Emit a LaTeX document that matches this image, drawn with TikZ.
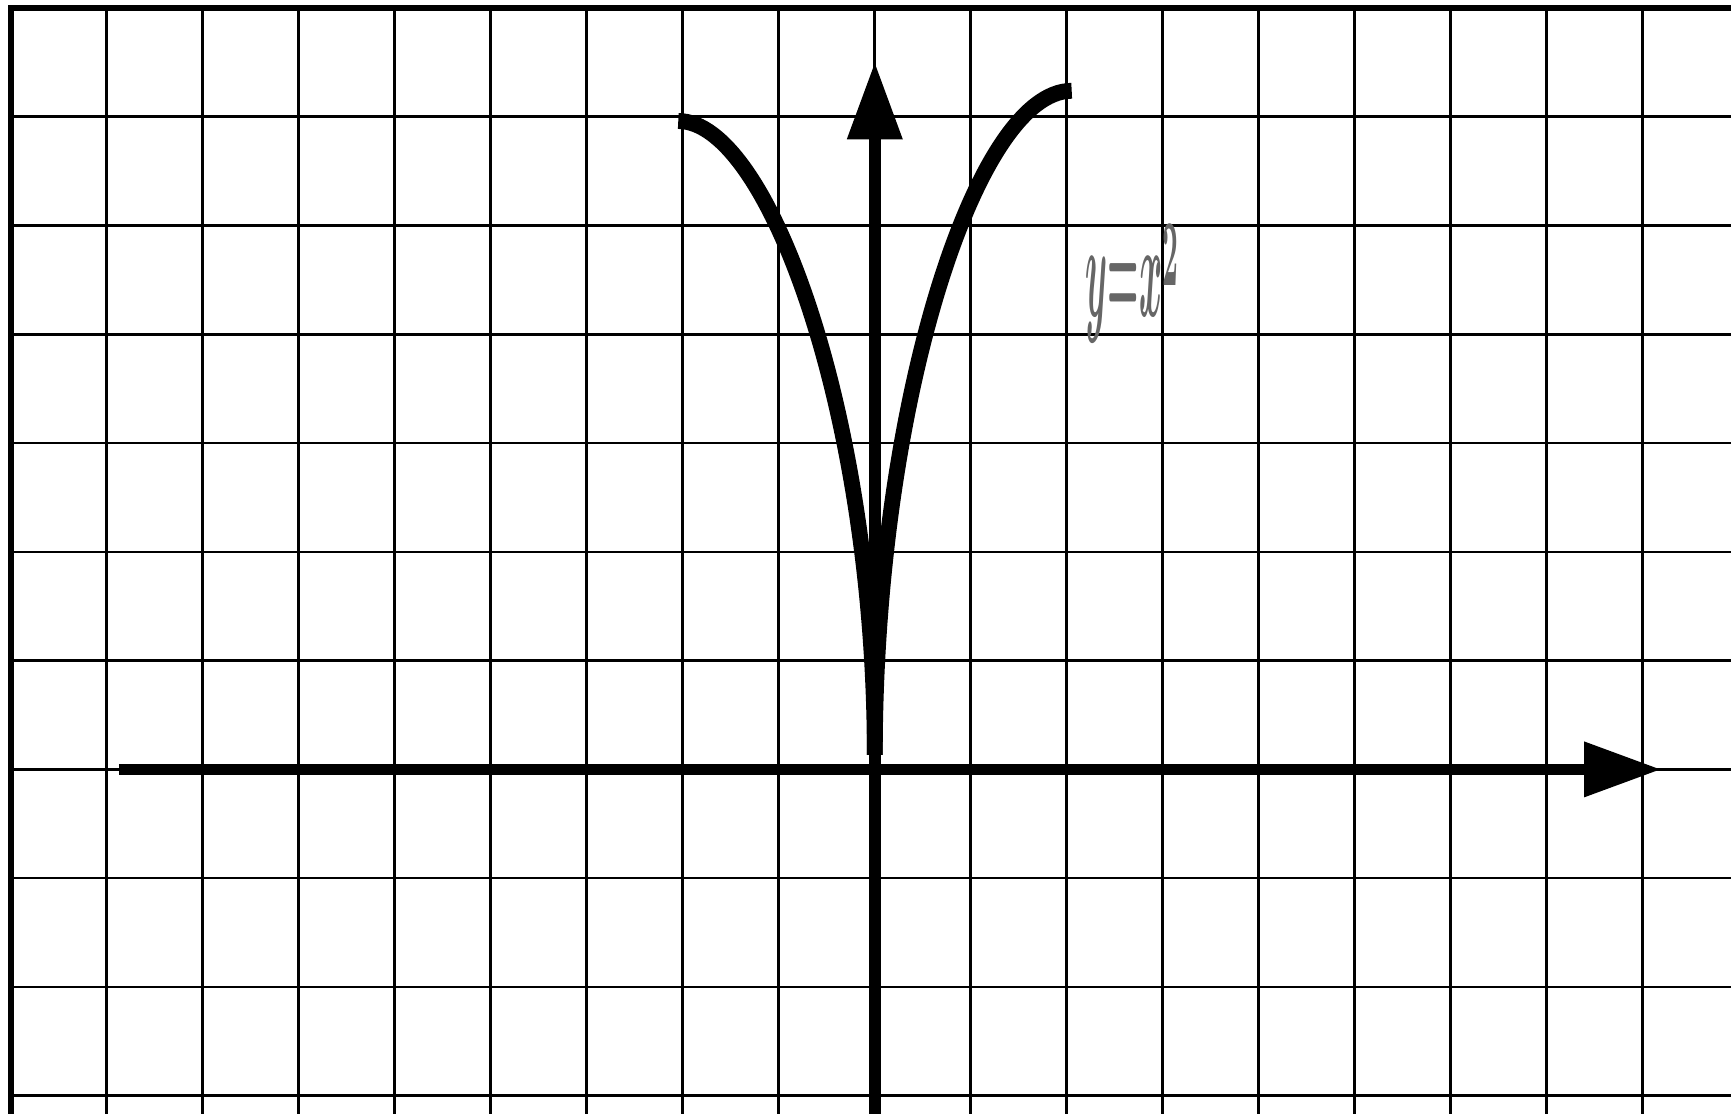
\documentclass[tikz,border=0pt]{standalone}
\usepackage{amsmath}
\usetikzlibrary{arrows.meta}

\begin{document}
\begin{tikzpicture}[x=1.92cm, y=2.1754cm,
    >={Triangle[length=1.52cm, width=1.12cm, line width=0pt]},
    gridline/.style={line width=1.5pt, black},
    frame/.style={line width=3.3pt, black},
    axis/.style={->, line width=6.5pt, black},
    curve/.style={line width=9pt, black, line cap=butt}]
    \useasboundingbox (-9.1125,-3.159) rectangle (8.9188,7.0737);
    \clip (-9.1125,-3.159) rectangle (8.9188,7.0737);

    % Grid paper
    \draw[gridline, step=1] (-9,-3.5) grid (9.5,7);
    \draw[frame] (-9,-3.5) -- (-9,7) -- (9.5,7);

    % Axes
    \coordinate (O) at (0,0);
    \coordinate (xstart) at (-7.873,0);
    \coordinate (xend) at (8.18,0);
    \coordinate (ystart) at (0,-3.5);
    \coordinate (yend) at (0,6.492);
    \draw[axis] (xstart) -- (xend);
    \draw[axis] (ystart) -- (yend);

    % Curve, two branches
    \coordinate (foot) at (0,0.134);
    \coordinate (ltop) at (-2.047,5.961);
    \coordinate (rtop) at (2.051,6.239);
    \draw[curve] (ltop) .. controls (-1.1,5.961) and (0,3.224) .. (foot);
    \draw[curve] (foot) .. controls (0,3.334) and (1.05,6.239) .. (rtop);

    % Label
    \node[anchor=base west, inner sep=0pt, text=black!60, xscale=2.0, yscale=7.66]
        (lbl) at (2.19,4.162) {$\boldsymbol{y{=}x}\raisebox{2.3pt}{$\scriptstyle\boldsymbol{2}$}$};
\end{tikzpicture}
\end{document}
